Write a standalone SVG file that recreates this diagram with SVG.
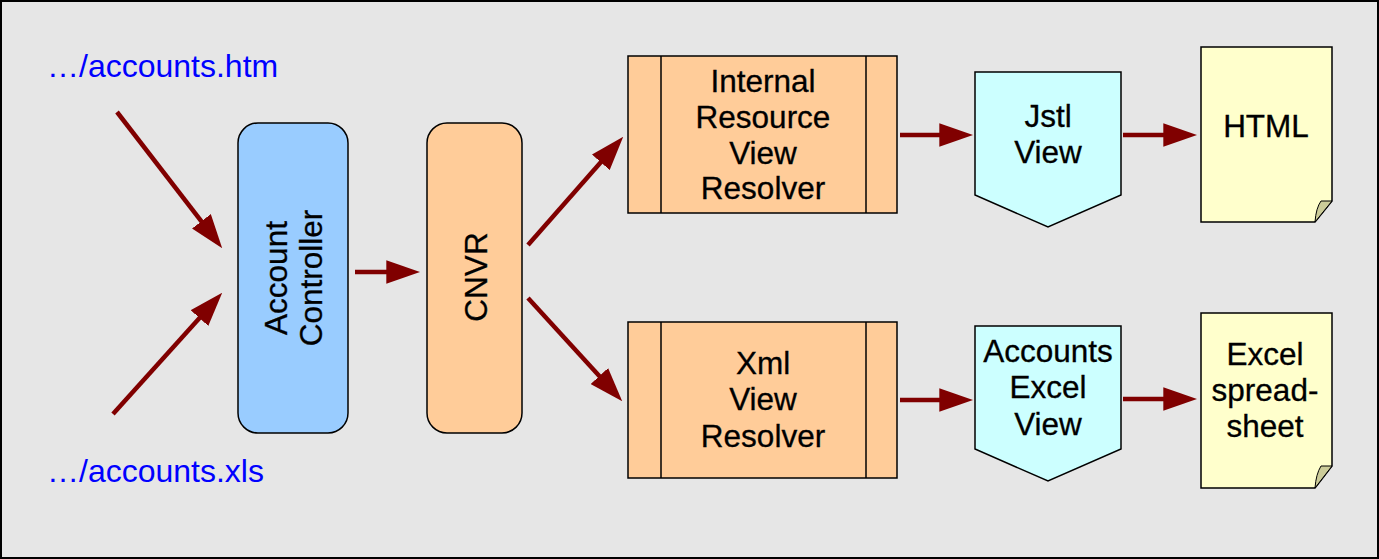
<svg xmlns="http://www.w3.org/2000/svg" width="1379" height="559" viewBox="0 0 1379 559">
<style>
text{font-family:"Liberation Sans",Arial,sans-serif;font-size:31.5px;fill:#000;text-anchor:middle;stroke:#000;stroke-width:0.3}
.url{fill:#0000ff;stroke:none;text-anchor:start;font-size:32px}
.box{stroke:#000;stroke-width:1.5}
.conn line{stroke:#800000;stroke-width:4.5;fill:none}
.fold{fill:#cccc99;stroke:#000;stroke-width:1}
</style>
<defs>
<marker id="ah" markerUnits="userSpaceOnUse" markerWidth="34" markerHeight="24" viewBox="0 0 33 23" refX="23" refY="11.5" orient="auto">
<path d="M0,0 L33,11.5 L0,23 z" fill="#800000"/>
</marker>
</defs>
<rect x="1" y="1" width="1377" height="557" fill="#e6e6e6" stroke="#000" stroke-width="2"/>
<g id="url-htm"><text class="url" x="47" y="77">…/accounts.htm</text></g>
<g id="url-xls"><text class="url" x="47" y="482">…/accounts.xls</text></g>
<g id="account-controller">
<rect class="box" x="238" y="123" width="110" height="310" rx="20" fill="#99ccff"/>
<text transform="translate(287,278) rotate(-90)">Account</text>
<text transform="translate(322,278) rotate(-90)">Controller</text>
</g>
<g id="cnvr">
<rect class="box" x="427" y="123" width="95" height="310" rx="20" fill="#ffcc99"/>
<text transform="translate(487,277) rotate(-90)">CNVR</text>
</g>
<g id="irvr">
<rect class="box" x="628" y="56" width="269" height="157" fill="#ffcc99"/>
<line class="box" x1="661" y1="56" x2="661" y2="213"/>
<line class="box" x1="866" y1="56" x2="866" y2="213"/>
<text x="763" y="92">Internal</text>
<text x="763" y="128">Resource</text>
<text x="763" y="164">View</text>
<text x="763" y="199">Resolver</text>
</g>
<g id="xvr">
<rect class="box" x="628" y="322" width="269" height="156" fill="#ffcc99"/>
<line class="box" x1="661" y1="322" x2="661" y2="478"/>
<line class="box" x1="866" y1="322" x2="866" y2="478"/>
<text x="763" y="374">Xml</text>
<text x="763" y="410">View</text>
<text x="763" y="447">Resolver</text>
</g>
<g id="jstl-view">
<path class="box" d="M975,72 L1121,72 L1121,195 L1048,227 L975,195 z" fill="#ccffff"/>
<text x="1048" y="127">Jstl</text>
<text x="1048" y="163">View</text>
</g>
<g id="accounts-excel-view">
<path class="box" d="M975,326 L1121,326 L1121,449 L1048,481 L975,449 z" fill="#ccffff"/>
<text x="1048" y="362">Accounts</text>
<text x="1048" y="398">Excel</text>
<text x="1048" y="435">View</text>
</g>
<g id="html">
<path class="box" d="M1201,47 L1332,47 L1332,201 L1315,222 L1201,222 z" fill="#ffffcc"/>
<path class="fold" d="M1315,222 Q1316,208 1321,201 L1332,201 z"/>
<text x="1266" y="137">HTML</text>
</g>
<g id="excel-spreadsheet">
<path class="box" d="M1201,313 L1332,313 L1332,466 L1315,488 L1201,488 z" fill="#ffffcc"/>
<path class="fold" d="M1315,488 Q1316,474 1321,466 L1332,466 z"/>
<text x="1265" y="365">Excel</text>
<text x="1265" y="401">spread-</text>
<text x="1265" y="437">sheet</text>
</g>
<g id="connectors" class="conn">
<line x1="117" y1="112" x2="215.9" y2="240.1" marker-end="url(#ah)"/>
<line x1="113" y1="414" x2="215.3" y2="300.4" marker-end="url(#ah)"/>
<line x1="355" y1="272" x2="410" y2="272" marker-end="url(#ah)"/>
<line x1="528" y1="245" x2="616.4" y2="144.5" marker-end="url(#ah)"/>
<line x1="528" y1="298" x2="615.3" y2="393.6" marker-end="url(#ah)"/>
<line x1="900" y1="135" x2="963" y2="135" marker-end="url(#ah)"/>
<line x1="900" y1="400" x2="963" y2="400" marker-end="url(#ah)"/>
<line x1="1123" y1="135" x2="1187" y2="135" marker-end="url(#ah)"/>
<line x1="1123" y1="399" x2="1187" y2="399" marker-end="url(#ah)"/>
</g>
</svg>
